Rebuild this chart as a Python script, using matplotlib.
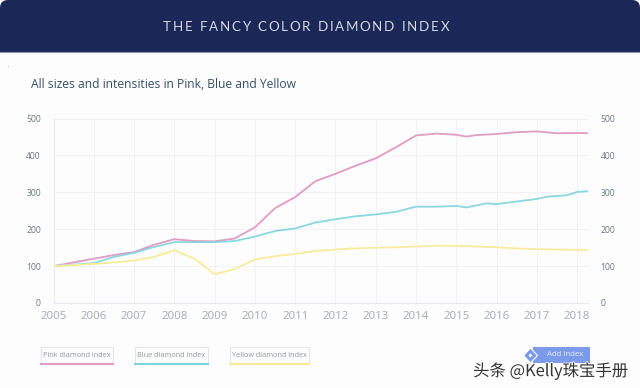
import matplotlib
matplotlib.use('Agg')
import matplotlib.pyplot as plt
from matplotlib.patches import Rectangle, FancyBboxPatch, Polygon
import matplotlib.patheffects as pe

W, H = 640, 388

years_pink = [2005, 2005.5, 2006, 2006.5, 2007, 2007.5, 2008, 2008.5, 2009, 2009.5, 2010, 2010.5, 2011, 2011.5,
              2012, 2012.5, 2013, 2013.5, 2014, 2014.5, 2015, 2015.25, 2015.5, 2016, 2016.5, 2017, 2017.5, 2018, 2018.27]
pink = [100, 110, 120, 130, 138, 158, 173, 168, 167, 175, 205, 257, 287, 330,
        350, 372, 392, 422, 454, 459, 456, 451, 455, 458, 463, 465, 460, 461, 460]

years_blue = [2005, 2006, 2006.5, 2007, 2007.5, 2008, 2008.5, 2009, 2009.5, 2010, 2010.5, 2011, 2011.5,
              2012, 2012.5, 2013, 2013.5, 2014, 2014.5, 2015, 2015.25, 2015.75, 2016, 2016.5, 2017, 2017.25, 2017.75, 2018, 2018.27]
blue = [100, 108, 125, 136, 152, 165, 165, 165, 168, 180, 195, 202, 218,
        227, 235, 240, 247, 261, 261, 263, 259, 270, 268, 275, 282, 288, 292, 301, 303]

years_yellow = [2005, 2006, 2006.5, 2007, 2007.5, 2008, 2008.5, 2009, 2009.5, 2010, 2010.5, 2011, 2011.5,
                2012, 2012.5, 2013, 2013.5, 2014, 2014.5, 2015, 2015.5, 2016, 2016.5, 2017, 2017.5, 2018, 2018.27]
yellow = [100, 106, 110, 115, 125, 143, 120, 78, 92, 118, 127, 133, 141,
          145, 148, 150, 151, 153, 155, 155, 153, 151, 148, 146, 145, 144, 143]

year_ticks = list(range(2005, 2019))
value_ticks = [0, 100, 200, 300, 400, 500]
legend_labels = ['Pink diamond index', 'Blue diamond index', 'Yellow diamond index']
title = 'THE FANCY COLOR DIAMOND INDEX'

PINK, BLUE, YELLOW = '#e09cc2', '#7fd3dc', '#f6ec9c'
NAVY = '#1b2756'
FONT = 'Open Sans'

fig = plt.figure(figsize=(W / 100, H / 100), dpi=100, facecolor='#fdfdfe')

# overlay in pixel coords for the page furniture
bg = fig.add_axes([0, 0, 1, 1], zorder=0)
bg.set_xlim(0, W)
bg.set_ylim(H, 0)
bg.axis('off')
bg.add_patch(FancyBboxPatch((0, 0), W, 40, boxstyle='round,pad=0,rounding_size=8', fc=NAVY, ec='none'))
bg.add_patch(Rectangle((0, 20), W, 32, fc=NAVY, ec='none'))
bg.plot([0, W], [52, 52], color='#8c95ad', lw=0.8)

# letterspaced title, one glyph at a time
renderer = fig.canvas.get_renderer()
glyphs = [bg.text(0, 27, ch, color='#d5d9e4', fontsize=9.6, ha='left', va='center', family='Lato') for ch in title]
widths = [4.0 if ch == ' ' else g.get_window_extent(renderer).width for ch, g in zip(title, glyphs)]
gap = (449 - 163 - sum(widths)) / (len(title) - 1)
x = 163
for g, w in zip(glyphs, widths):
    g.set_x(x)
    x += w + gap

bg.text(31, 85, 'All sizes and intensities in Pink, Blue and Yellow', color='#365066', fontsize=8.7,
        ha='left', va='center', family=FONT)
bg.add_patch(Rectangle((8, 65.5), 1, 1, fc='#b5b8be', ec='none'))

# main plot
ax = fig.add_axes([53.5 / W, 1 - 303 / H, (588 - 53.5) / W, (303 - 118.5) / H], zorder=2)
ax.patch.set_alpha(0)
ax.plot(years_pink, pink, color=PINK, lw=1.3, solid_joinstyle='round', zorder=3)
ax.plot(years_blue, blue, color=BLUE, lw=1.3, alpha=0.9, solid_joinstyle='round', zorder=4)
ax.plot(years_yellow, yellow, color=YELLOW, lw=1.3, solid_joinstyle='round', zorder=5)
ax.set_xlim(2005, 2018.27)
ax.set_ylim(0, 500)
ax.set_xticks(year_ticks)
ax.set_yticks(value_ticks)
ax.grid(True, color='#f0f2f5', lw=0.7)
ax.set_axisbelow(True)
for s in ax.spines.values():
    s.set_visible(False)
ax.spines['bottom'].set_visible(True)
ax.spines['bottom'].set_color('#e6e9ed')
ax.spines['left'].set_visible(True)
ax.spines['left'].set_color('#e6e9ed')
ax.tick_params(axis='x', length=0, pad=6, labelsize=8.2, labelcolor='#a4a9b0')
ax.tick_params(axis='y', length=0, pad=9, labelsize=6.2, labelcolor='#6d7680')
ax2 = ax.twinx()
ax2.set_ylim(0, 500)
ax2.set_yticks(value_ticks)
ax2.tick_params(axis='y', length=0, pad=9, labelsize=6.2, labelcolor='#6d7680')
for s in ax2.spines.values():
    s.set_visible(False)
for lab in ax.get_xticklabels() + ax.get_yticklabels() + ax2.get_yticklabels():
    lab.set_family(FONT)

# legend boxes
boxes = [(40.5, 113), (135, 208), (230, 309)]
for (x0, x1), label, c in zip(boxes, legend_labels, [PINK, BLUE, YELLOW]):
    bg.add_patch(Rectangle((x0, 347), x1 - x0, 17, fc='#fdfdfe', ec='#e4e5e8', lw=0.8))
    bg.plot([x0, x1], [364, 364], color=c, lw=1.5)
    bg.text((x0 + x1) / 2, 355.5, label, color='#8f9499', fontsize=5.2, ha='center', va='center', family=FONT)

# add index button
bg.add_patch(Rectangle((533, 347), 57, 15.5, fc='#7b9bea', ec='none'))
bg.add_patch(Polygon([(530.5, 348), (537.5, 355.5), (530.5, 363), (523.5, 355.5)], fc='#7b9bea', ec='#ffffff', lw=0.8))
bg.add_patch(Polygon([(530.5, 353.5), (532.5, 355.5), (530.5, 357.5), (528.5, 355.5)], fc='#ffffff', ec='none'))
bg.text(565, 355, 'Add Index', color='#e8eefc', fontsize=5.6, ha='center', va='center', family=FONT)

# watermark
wm = fig.text(550.5 / W, 1 - 371 / H, '头条 @Kelly珠宝手册', color='#333333', fontsize=11.8, ha='center', va='center',
              family=['Noto Sans CJK SC', 'DejaVu Sans'], zorder=5)
wm.set_path_effects([pe.withStroke(linewidth=1.2, foreground='white')])

fig.savefig('out.png', dpi=100, facecolor=fig.get_facecolor())
